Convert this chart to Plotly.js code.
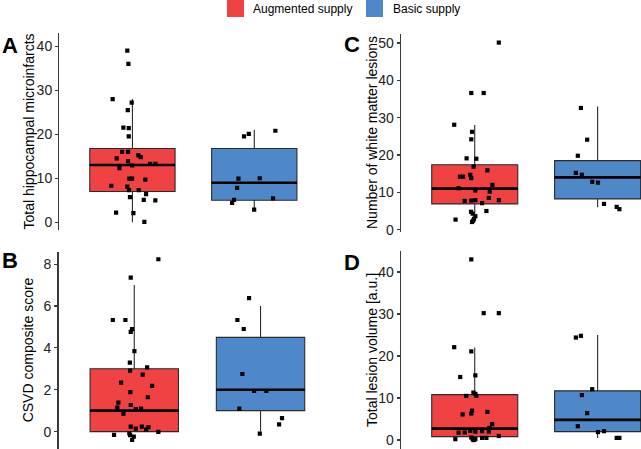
<!DOCTYPE html>
<html>
<head>
<meta charset="utf-8">
<script src="https://cdn.plot.ly/plotly-3.0.1.min.js"></script>
<style>html,body{margin:0;padding:0;background:#fff}#chart{width:641px;height:449px}</style>
</head>
<body>
<div id="chart"></div>
<script>
// ---------- data ----------
const groups = ['Augmented supply', 'Basic supply'];
const groupPos = [1, 2];
const groupColors = ['#F04242', '#4F88C9'];

// Panel A: Total hippocampal microinfarcts
const aRedX = [0.958,0.967,0.838,0.994,0.962,0.926,0.970,0.970,0.915,0.964,0.871,0.964,1.049,1.068,0.997,0.893,1.145,1.188,0.975,0.997,1.106,0.827,0.958,0.972,1.052,1.112,0.980,1.093,1.188,0.866,1.008,1.098];
const aRedY = [39.0,36.0,28.0,27.2,25.5,21.5,21.4,19.5,16.0,16.0,14.5,13.9,15.2,14.8,12.9,12.3,13.3,13.3,9.9,9.9,9.7,8.3,8.1,7.3,7.3,6.4,5.7,5.1,5.0,2.2,2.1,0.1];
const aBlueX = [1.916,1.955,2.173,1.870,2.045,1.859,1.834,1.818,2.154,1.999];
const aBlueY = [19.5,20.1,20.8,9.9,10.0,7.8,5.1,4.4,5.45,2.9];
const aQ1 = [7, 5], aMed = [13, 9], aQ3 = [16.75, 16.75], aLo = [0, 3], aHi = [28, 21];

// Panel B: CSVD composite score
const bRedX = [1.191,0.972,0.830,0.930,0.983,0.972,1.001,0.965,0.967,1.102,1.067,0.896,1.141,0.969,1.107,0.874,0.972,0.866,1.012,1.054,0.914,0.972,1.060,1.112,1.012,1.094,1.191,0.840,0.961,0.967,0.996,0.983];
const bRedY = [8.23,7.35,5.33,5.33,4.89,4.76,3.84,3.29,2.91,3.07,2.72,2.34,2.18,1.89,1.64,1.38,1.27,1.15,1.07,1.10,0.86,0.24,0.24,0.21,0.14,0.10,-0.01,-0.16,-0.08,-0.17,-0.24,-0.40];
const bBlueX = [1.909,1.817,1.867,1.856,1.949,2.046,1.832,2.170,2.147,1.994];
const bBlueY = [6.37,5.33,4.90,2.75,1.94,1.94,1.10,0.64,0.35,-0.10];
const bQ1 = [0, 1], bMed = [1, 2], bQ3 = [3, 4.5], bLo = [0, 0], bHi = [7, 6];

// Panel C: Number of white matter lesions
const cRedX = [1.196,0.972,1.073,0.833,0.978,0.972,0.934,1.013,0.991,1.103,0.880,0.905,0.964,0.972,1.144,0.869,1.005,1.122,1.114,0.918,0.972,1.005,1.196,1.060,0.970,0.983,1.005,1.095,0.844,0.986,0.994,0.978];
const cRedY = [50.1,36.6,36.6,28.1,26.2,24.2,19.1,19.0,16.9,15.9,14.2,14.2,14.7,13.8,12.0,11.1,10.5,10.2,8.5,7.7,7.8,7.9,7.9,7.1,4.8,4.3,3.6,5.0,2.7,2.4,2.9,2.06];
const cBlueX = [1.864,1.915,1.839,1.823,1.872,1.956,2.003,2.052,2.155,2.177];
const cBlueY = [32.6,24.1,19.8,15.2,14.7,12.8,12.6,6.9,6.1,5.5];
const cQ1 = [6.9, 8.25], cMed = [11, 14], cQ3 = [17.4, 18.5], cLo = [2, 6], cHi = [28, 33];

// Panel D: Total lesion volume [a.u.]
const dRedX = [0.972,1.073,1.196,0.833,0.972,1.005,0.882,0.989,1.005,0.931,1.013,0.978,0.972,0.901,1.103,1.142,1.120,1.114,0.869,0.918,0.964,1.005,1.060,1.196,0.842,0.972,0.983,0.994,1.005,1.060,1.095,0.989];
const dRedY = [43.0,30.2,30.2,22.1,21.1,15.4,15.0,11.3,11.0,10.5,10.5,7.0,6.3,6.1,6.7,3.8,2.9,2.0,1.75,1.8,2.2,2.0,2.1,0.95,0.2,0.6,0.3,0.0,0.2,0.5,0.5,0.0];
const dBlueX = [1.823,1.864,1.872,1.956,1.915,1.839,2.003,2.052,2.155,2.177];
const dBlueY = [24.4,24.8,10.7,12.1,6.4,3.3,1.9,2.1,0.5,0.5];
const dQ1 = [0.8, 2.0], dMed = [2.7, 4.8], dQ3 = [10.8, 11.7], dLo = [0.1, 0.5], dHi = [22, 25];

const yTitles = ['Total hippocampal microinfarcts', 'CSVD composite score', 'Number of white matter lesions', 'Total lesion volume [a.u.]'];
const panelLetters = ['A', 'B', 'C', 'D'];
const yTicks = [[0,10,20,30,40],[0,2,4,6,8],[0,10,20,30,40,50],[0,10,20,30,40]];

// ---------- layout helpers ----------
const W = 641, H = 449;
const fx = p => p / W;
const fy = p => 1 - p / H;
const FONT = 'Liberation Sans, Arial, Helvetica, sans-serif';
const BOXW = 0.7;

const panels = [
  {ax:'', q1:aQ1, med:aMed, q3:aQ3, lo:aLo, hi:aHi, pts:[[aRedX,aRedY],[aBlueX,aBlueY]],
   xd:[59.3,327.4], yd:[33,230], xr:[0.4,2.6], yr:[-1.75,43.0], tx:28, letter:[10,45]},
  {ax:'2', q1:bQ1, med:bMed, q3:bQ3, lo:bLo, hi:bHi, pts:[[bRedX,bRedY],[bBlueX,bBlueY]],
   xd:[58.5,336.3], yd:[251.7,449], xr:[0.4,2.6], yr:[-0.83,8.59], tx:28, letter:[10,260]},
  {ax:'3', q1:cQ1, med:cMed, q3:cQ3, lo:cLo, hi:cHi, pts:[[cRedX,cRedY],[cBlueX,cBlueY]],
   xd:[401,641], yd:[34,232], xr:[0.4,2.353], yr:[-0.62,52.4], tx:372, letter:[352,44]},
  {ax:'4', q1:dQ1, med:dMed, q3:dQ3, lo:dLo, hi:dHi, pts:[[dRedX,dRedY],[dBlueX,dBlueY]],
   xd:[401,641], yd:[251,449], xr:[0.4,2.353], yr:[-2.14,45.0], tx:372, letter:[352,262]}
];

const traces = [];
const layout = {
  width: W, height: H,
  margin: {l:0, r:0, t:0, b:0},
  paper_bgcolor: '#fff', plot_bgcolor: 'rgba(0,0,0,0)',
  showlegend: false,
  font: {family: FONT, color: '#000'},
  shapes: [], annotations: []
};

panels.forEach((p, pi) => {
  const xa = 'x' + p.ax, ya = 'y' + p.ax;
  groups.forEach((g, gi) => {
    traces.push({
      type: 'box', xaxis: xa, yaxis: ya, name: g,
      x: [groupPos[gi]],
      q1: [p.q1[gi]], median: [p.med[gi]], q3: [p.q3[gi]],
      lowerfence: [p.lo[gi]], upperfence: [p.hi[gi]],
      boxpoints: false, width: BOXW, whiskerwidth: 0,
      fillcolor: groupColors[gi],
      line: {color: '#2b2b2b', width: 1.1},
      hoverinfo: 'skip'
    });
    // thicker median line (ggplot fatten)
    traces.push({
      type: 'scatter', mode: 'lines', xaxis: xa, yaxis: ya,
      x: [groupPos[gi] - BOXW/2, groupPos[gi] + BOXW/2],
      y: [p.med[gi], p.med[gi]],
      line: {color: '#000', width: 2.6}, hoverinfo: 'skip'
    });
  });
  groups.forEach((g, gi) => {
    traces.push({
      type: 'scatter', mode: 'markers', xaxis: xa, yaxis: ya, name: g,
      x: p.pts[gi][0], y: p.pts[gi][1],
      marker: {symbol: 'square', size: 4.2, color: '#000'},
      hoverinfo: 'skip'
    });
  });
  layout['xaxis' + p.ax] = {
    domain: [fx(p.xd[0]), fx(p.xd[1])], range: p.xr, anchor: ya,
    visible: false, showgrid: false, zeroline: false, fixedrange: true
  };
  layout['yaxis' + p.ax] = {
    domain: [fy(p.yd[1]), fy(p.yd[0])], range: p.yr, anchor: xa,
    tickvals: yTicks[pi], ticktext: yTicks[pi].map(String),
    showline: true, linecolor: '#3a3a3a', linewidth: 1.3,
    ticks: 'outside', ticklen: 3, tickcolor: '#3a3a3a', tickwidth: 1.1,
    showgrid: false, zeroline: false, fixedrange: true,
    tickfont: {family: FONT, size: 14, color: '#222'}
  };
  const ymid = (p.yd[0] + p.yd[1]) / 2;
  layout.annotations.push({
    xref: 'paper', yref: 'paper', x: fx(p.tx), y: fy(ymid),
    xanchor: 'center', yanchor: 'middle', textangle: -90, showarrow: false,
    text: yTitles[pi], font: {family: FONT, size: 14, color: '#000'}
  });
  layout.annotations.push({
    xref: 'paper', yref: 'paper', x: fx(p.letter[0]), y: fy(p.letter[1]),
    xanchor: 'center', yanchor: 'middle', showarrow: false,
    text: '<b>' + panelLetters[pi] + '</b>', font: {family: FONT, size: 22, color: '#000'}
  });
});

// legend (drawn manually to match the reference keys)
const legendKeys = [[227, 244], [366, 383]];
const legendText = [251, 391];
groups.forEach((g, gi) => {
  layout.shapes.push({
    type: 'rect', xref: 'paper', yref: 'paper',
    x0: fx(legendKeys[gi][0]), x1: fx(legendKeys[gi][1]), y0: fy(17), y1: fy(0),
    fillcolor: groupColors[gi], line: {width: 0}
  });
  layout.annotations.push({
    xref: 'paper', yref: 'paper', x: fx(legendText[gi]), y: fy(9),
    xanchor: 'left', yanchor: 'middle', showarrow: false,
    text: g, font: {family: FONT, size: 12, color: '#000'}
  });
});

Plotly.newPlot('chart', traces, layout, {staticPlot: true, displayModeBar: false});
</script>
</body>
</html>
